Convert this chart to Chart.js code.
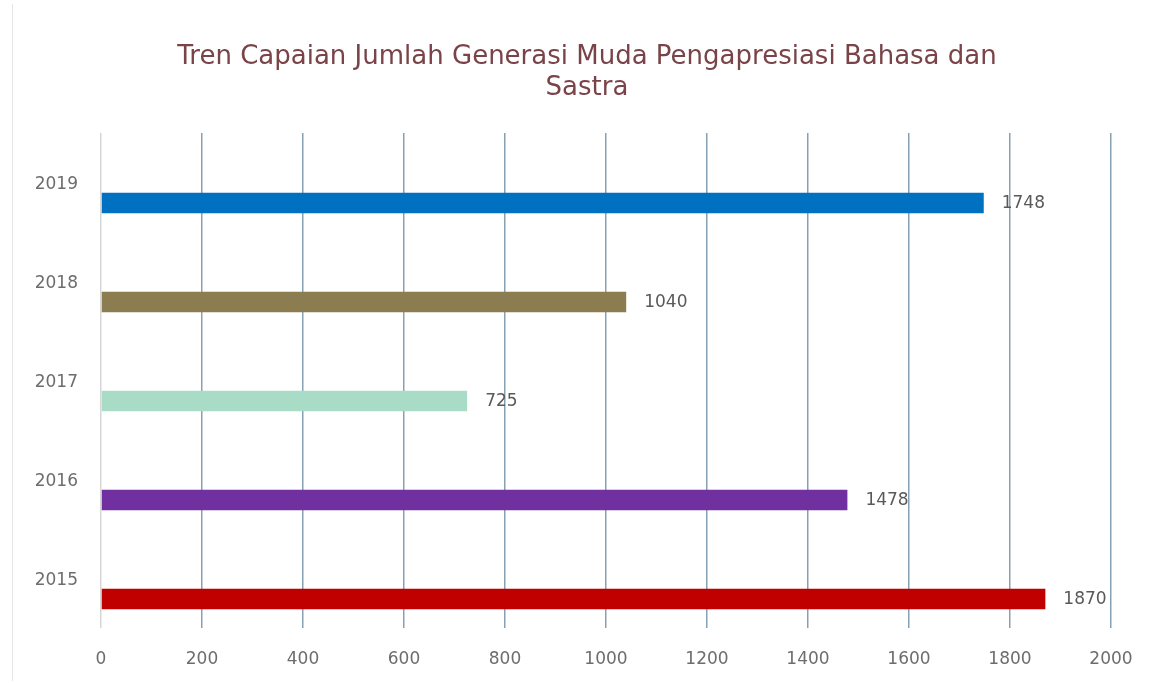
<!DOCTYPE html>
<html>
<head>
<meta charset="utf-8">
<title>Tren Capaian Jumlah Generasi Muda Pengapresiasi Bahasa dan Sastra</title>
<script src="https://cdn.jsdelivr.net/npm/chart.js@4"></script>
<style>
  html, body { margin: 0; padding: 0; background: #ffffff; }
  #wrap { position: relative; width: 1154px; height: 683px; }
  #wrap::before {
    content: ""; position: absolute; left: 12px; top: 4px; bottom: 2px;
    border-left: 1px solid #e4e4e4;
  }
  canvas { position: absolute; left: 0; top: 0; }
</style>
</head>
<body>
<div id="wrap"><canvas id="chart" width="1154" height="683"></canvas></div>
<script>
// Years, top to bottom
const years = ['2019', '2018', '2017', '2016', '2015'];
// Number of young people reached per year
const achieved = [1748, 1040, 725, 1478, 1870];
// One colour per year
const barColors = ['#0070c0', '#8b7d50', '#a8dcc6', '#7030a0', '#c00000'];
// Value axis
const xMin = 0;
const xMax = 2000;
const xStep = 200;

const titleLines = ['Tren Capaian Jumlah Generasi Muda Pengapresiasi Bahasa dan', 'Sastra'];

const labelFont = { family: '"DejaVu Sans", sans-serif', size: 17 };

// Writes each bar's value just past its end
const valueLabels = {
  id: 'valueLabels',
  afterDatasetsDraw(chart) {
    const meta = chart.getDatasetMeta(1);
    const ctx = chart.ctx;
    ctx.save();
    ctx.font = labelFont.size + 'px ' + labelFont.family;
    ctx.fillStyle = '#595959';
    ctx.textAlign = 'left';
    ctx.textBaseline = 'middle';
    meta.data.forEach((bar, i) => {
      ctx.fillText(String(achieved[i]), bar.x + 18, bar.y + 1);
    });
    ctx.restore();
  }
};

new Chart(document.getElementById('chart'), {
  type: 'bar',
  data: {
    labels: years,
    datasets: [
      // empty slot above each bar, so the bar sits in the lower half of its row
      { label: '', data: years.map(() => null) },
      {
        label: 'Capaian',
        data: achieved,
        backgroundColor: barColors,
        borderWidth: 0
      }
    ]
  },
  options: {
    indexAxis: 'y',
    responsive: false,
    animation: false,
    categoryPercentage: 0.83,
    barPercentage: 0.5,
    layout: { padding: { left: 20, right: 0, top: 0, bottom: 0 } },
    plugins: {
      legend: { display: false },
      tooltip: { enabled: false },
      title: {
        display: true,
        text: titleLines,
        color: '#7a4348',
        font: { family: '"DejaVu Sans", sans-serif', size: 26, weight: 'normal', lineHeight: 31 / 26 },
        padding: { top: 41.5, bottom: 29.5 }
      }
    },
    scales: {
      x: {
        min: xMin,
        max: xMax,
        border: { display: false },
        grid: {
          drawTicks: false,
          lineWidth: 1.5,
          color: (c) => (c.index === 0 ? '#d6d6d6' : '#87a1b4')
        },
        ticks: {
          stepSize: xStep,
          padding: 21,
          color: '#6d6d6d',
          font: labelFont,
          callback: (v) => String(v)
        },
        afterFit(scale) {
          scale.height = 55;
          scale.paddingLeft = 0;
          scale.paddingRight = 43;
        }
      },
      y: {
        border: { display: false },
        grid: { display: false, drawTicks: false },
        ticks: {
          padding: 23,
          labelOffset: 2,
          color: '#6d6d6d',
          font: labelFont
        },
        afterFit(scale) {
          scale.width = 81;
          scale.paddingTop = 0;
          scale.paddingBottom = 0;
        }
      }
    }
  },
  plugins: [valueLabels]
});
</script>
</body>
</html>
